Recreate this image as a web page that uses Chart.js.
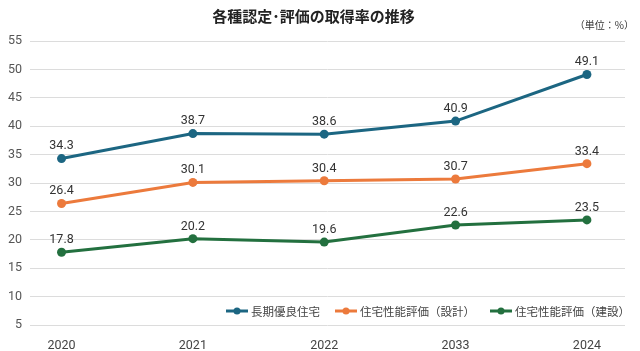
<!DOCTYPE html>
<html>
<head>
<meta charset="utf-8">
<script src="https://cdn.jsdelivr.net/npm/chart.js@4/dist/chart.umd.min.js"></script>
<style>
  html, body { margin: 0; padding: 0; background: #fff; }
  #wrap { width: 640px; height: 351px; position: relative; }
</style>
</head>
<body>
<div id="wrap"><canvas id="chart"></canvas></div>
<script>
// categories and series
const years = ['2020', '2021', '2022', '2033', '2024'];
const longLife = [34.3, 38.7, 38.6, 40.9, 49.1];
const designEval = [26.4, 30.1, 30.4, 30.7, 33.4];
const buildEval = [17.8, 20.2, 19.6, 22.6, 23.5];
const seriesNames = ['長期優良住宅', '住宅性能評価（設計）', '住宅性能評価（建設）'];
const seriesColors = ['#1c6682', '#ec7a3c', '#23703f'];
const unitText = '（単位：%）';

const fontFamily = '"Noto Sans CJK JP", "Noto Sans", sans-serif';
const numFont = 'Roboto, "DejaVu Sans", sans-serif';

// linear x so the points can sit inside the grid with uneven side margins
function toPoints(values) {
    return values.map((v, i) => ({ x: i, y: v }));
}

// value labels above each point
const valueLabels = {
    id: 'valueLabels',
    afterDatasetsDraw(chart) {
        const ctx = chart.ctx;
        ctx.save();
        ctx.font = '12.5px ' + numFont;
        ctx.fillStyle = '#333';
        ctx.textAlign = 'center';
        ctx.textBaseline = 'bottom';
        chart.data.datasets.forEach((ds, di) => {
            const meta = chart.getDatasetMeta(di);
            meta.data.forEach((pt, i) => {
                ctx.fillText(ds.data[i].y.toFixed(1), pt.x, pt.y - 6);
            });
        });
        ctx.restore();
    }
};

// unit note top right, and legend inside the plot bottom right
const extras = {
    id: 'extras',
    afterDraw(chart) {
        const ctx = chart.ctx;
        const area = chart.chartArea;
        ctx.save();
        ctx.font = '10px ' + fontFamily;
        ctx.fillStyle = '#333';
        ctx.textAlign = 'right';
        ctx.textBaseline = 'middle';
        ctx.fillText(unitText, 634, 25);

        ctx.textAlign = 'left';
        ctx.font = '11.5px ' + fontFamily;
        const y = area.bottom - 14;
        const lineW = 22, gap = 3, itemGap = 15;
        const widths = chart.data.datasets.map(ds => lineW + gap + ctx.measureText(ds.label).width);
        let x = area.right + 5 - widths.reduce((a, b) => a + b, 0) - itemGap * (widths.length - 1);
        chart.data.datasets.forEach((ds, i) => {
            ctx.strokeStyle = ds.borderColor;
            ctx.lineWidth = 3;
            ctx.beginPath();
            ctx.moveTo(x, y);
            ctx.lineTo(x + lineW, y);
            ctx.stroke();
            ctx.fillStyle = ds.borderColor;
            ctx.beginPath();
            ctx.arc(x + lineW / 2, y, 3.5, 0, Math.PI * 2);
            ctx.fill();
            ctx.fillStyle = '#444';
            ctx.fillText(ds.label, x + lineW + gap, y + 1);
            x += widths[i] + itemGap;
        });
        ctx.restore();
    }
};

function makeDataset(label, values, color) {
    return {
        label: label,
        data: toPoints(values),
        borderColor: color,
        backgroundColor: color,
        borderWidth: 3,
        pointRadius: 4.5,
        pointBorderWidth: 0,
        pointHoverRadius: 4.5,
        tension: 0
    };
}

new Chart(document.getElementById('chart'), {
    type: 'line',
    data: {
        datasets: [
            makeDataset(seriesNames[0], longLife, seriesColors[0]),
            makeDataset(seriesNames[1], designEval, seriesColors[1]),
            makeDataset(seriesNames[2], buildEval, seriesColors[2])
        ]
    },
    options: {
        responsive: true,
        maintainAspectRatio: false,
        animation: false,
        layout: { padding: { left: 2, right: 15, top: 4, bottom: 0 } },
        plugins: {
            legend: { display: false },
            tooltip: { enabled: false },
            title: {
                display: true,
                text: '各種認定･評価の取得率の推移',
                color: '#222',
                font: { family: fontFamily, size: 15, weight: 'bold' },
                padding: { top: 3, bottom: 16 }
            }
        },
        scales: {
            x: {
                type: 'linear',
                min: -0.24,
                max: 4.29,
                afterBuildTicks(axis) {
                    axis.ticks = years.map((y, i) => ({ value: i }));
                },
                afterFit(axis) {
                    axis.height = 26;
                },
                grid: { display: false },
                border: { display: false },
                ticks: {
                    color: '#444',
                    font: { family: numFont, size: 12.5 },
                    padding: 5,
                    callback: (v) => years[v]
                }
            },
            y: {
                min: 5,
                max: 55,
                afterFit(axis) {
                    axis.width = 28;
                },
                ticks: {
                    stepSize: 5,
                    color: '#555',
                    font: { family: numFont, size: 12.5 },
                    padding: 8
                },
                grid: { color: '#dcdcdc', drawTicks: false, lineWidth: 1 },
                border: { display: false }
            }
        }
    },
    plugins: [valueLabels, extras]
});
</script>
</body>
</html>
